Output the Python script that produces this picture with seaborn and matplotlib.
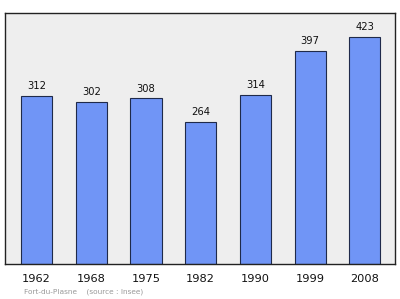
import matplotlib
matplotlib.use("Agg")
import matplotlib.pyplot as plt
import seaborn as sns
import pandas as pd

years = ["1962", "1968", "1975", "1982", "1990", "1999", "2008"]
population = [312, 302, 308, 264, 314, 397, 423]

sns.set_style("white")
plt.rcParams['font.family'] = ['DejaVu Sans']

df = pd.DataFrame({"year": years, "pop": population})

fig = plt.figure(figsize=(4.0, 2.99), dpi=100)
ax = fig.add_axes([5/400, 35/299, 390/400, 251/299])
ax.set_facecolor("#eeeeee")

sns.barplot(data=df, x="year", y="pop", ax=ax, color="#7095f6",
            saturation=1, width=0.57, edgecolor="#1f2a4a", linewidth=0.8)

for i, v in enumerate(population):
    ax.text(i, v + 9, str(v), ha="center", va="bottom", fontsize=7.2, color="#111111")

ax.set_xlim(-0.575, 6.55)
ax.set_ylim(0, 467)
ax.set_yticks([])
ax.set_xlabel("")
ax.set_ylabel("")
ax.tick_params(axis="x", length=0, pad=7, labelsize=8.2, colors="#111111")
for s in ax.spines.values():
    s.set_visible(True)
    s.set_color("#222222")
    s.set_linewidth(1.0)

fig.text(24/400, 1 - 292/299, "Fort-du-Plasne    (source : Insee)", fontsize=5.3,
         color="#999999", ha="left", va="center")

fig.savefig("out.png", dpi=100, facecolor="white")
